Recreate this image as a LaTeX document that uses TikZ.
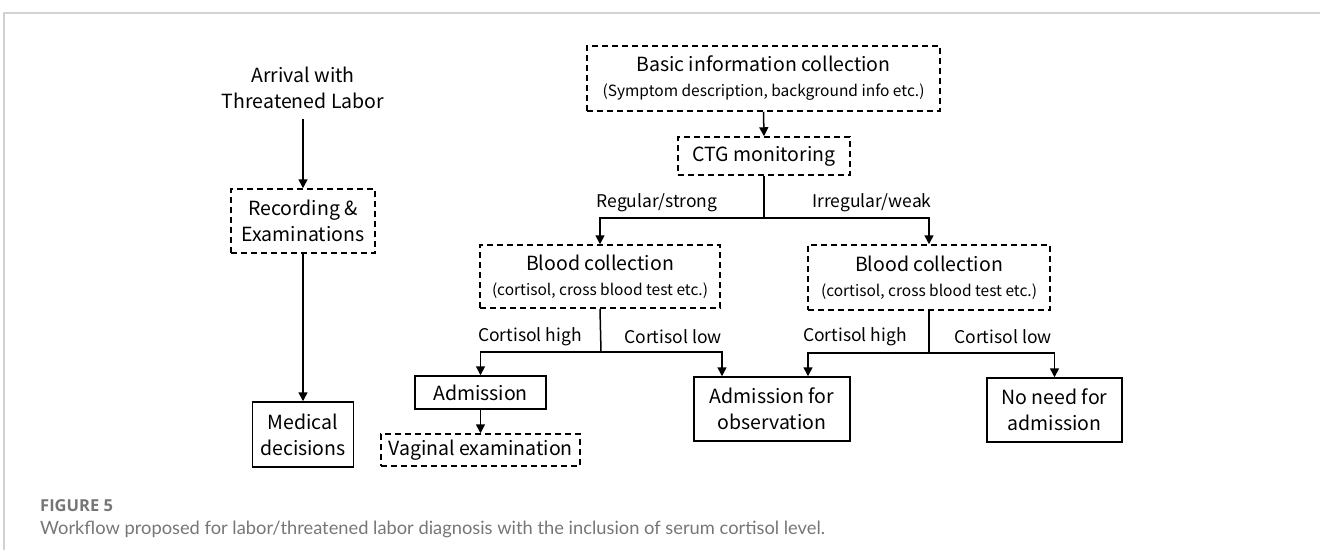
\documentclass[tikz,border=0pt]{standalone}
\usepackage{fontspec}
\setmainfont{Noto Sans CJK SC}
\newfontfamily\capfont{Lato}
\newfontfamily\figfont{Open Sans}
\usetikzlibrary{arrows.meta,positioning,calc}
\definecolor{framegray}{HTML}{D2D2D2}
\definecolor{capgray}{HTML}{767676}
\tikzset{
  boxbase/.style={draw=black, line width=1.5pt, inner sep=0pt, align=center, font=\fontsize{19.5}{26}\selectfont},
  sbox/.style={boxbase},
  dbox/.style={boxbase, dash pattern=on 6pt off 4pt},
  conn/.style={line width=1.5pt},
  arr/.style={conn, -{Triangle[length=9pt,width=9pt]}},
  lbl/.style={font=\fontsize{17.5}{20}\selectfont, inner sep=0pt}
}
\newcommand{\subtxt}[1]{{\fontsize{15.5}{18}\selectfont #1}}
\begin{document}
\begin{tikzpicture}[x=1pt,y=-1pt]
\useasboundingbox (0,0) rectangle (1320,550);
% frame
\draw[framegray, line width=1.5pt] (4,550) -- (4,13) -- (1320,13);
% left column
\node[font=\fontsize{19.5}{26}\selectfont, align=center, inner sep=0pt] (arrival) at (303,88) {Arrival with\\Threatened Labor};
\node[dbox, minimum width=144pt, minimum height=64pt] (rec) at (303,221) {Recording \&\\Examinations};
\node[sbox, minimum width=101pt, minimum height=65pt] (med) at (303,434.5) {Medical\\decisions};
% right
\node[dbox, minimum width=353pt, minimum height=65pt] (basic) at (763.5,78.5) {Basic information collection\\[-1pt]\subtxt{(Symptom description, background info etc.)}};
\node[dbox, minimum width=172pt, minimum height=38pt] (ctg) at (764,156) {CTG monitoring};
\node[dbox, minimum width=240pt, minimum height=63pt] (bl) at (600,276.5) {Blood collection\\[-1pt]\subtxt{(cortisol, cross blood test etc.)}};
\node[dbox, minimum width=242pt, minimum height=65pt] (br) at (929,277.5) {Blood collection\\[-1pt]\subtxt{(cortisol, cross blood test etc.)}};
\node[sbox, minimum width=131pt, minimum height=33pt] (adm) at (480.5,392.5) {Admission};
\node[dbox, minimum width=199pt, minimum height=32pt] (vag) at (480.5,450) {Vaginal examination};
\node[sbox, minimum width=156pt, minimum height=64pt] (obs) at (772,409) {Admission for\\observation};
\node[sbox, minimum width=135pt, minimum height=64pt] (noneed) at (1054.5,410) {No need for\\admission};
% junctions
\coordinate (j1) at (764,218);
\coordinate (j2) at (601,352);
\coordinate (j3) at (929,353);
\coordinate (a0) at (303,119);
% connectors
\draw[arr] (a0) -- (rec.north);
\draw[arr] (rec.south) -- (med.north);
\draw[arr] (basic.south) -- (ctg.north);
\draw[conn] (ctg.south) -- (j1);
\draw[arr] (j1) -| (bl.north);
\draw[arr] (j1) -| (br.north);
\draw[conn] (bl.south) -- (j2);
\draw[arr] (j2) -| (adm.north);
\draw[arr] (j2) -| ([xshift=-50pt]obs.north);
\draw[conn] (br.south) -- (j3);
\draw[arr] (j3) -| ([xshift=36pt]obs.north);
\draw[arr] (j3) -| (noneed.north);
\draw[arr] (adm.south) -- (vag.north);
% labels
\node[lbl] (l1) at (657,203) {Regular/strong};
\node[lbl] (l2) at (872,203) {Irregular/weak};
\node[lbl] (l3) at (530,337) {Cortisol high};
\node[lbl] (l4) at (673,337) {Cortisol low};
\node[lbl] (l5) at (855,337) {Cortisol high};
\node[lbl] (l6) at (1003,337) {Cortisol low};
% caption
\node[anchor=west, inner sep=0pt, text=capgray, font=\figfont\bfseries\fontsize{16.5}{19}\selectfont] (fig) at (40,506) {FIGURE 5};
\node[anchor=west, inner sep=0pt, text=capgray, font=\capfont\fontsize{18.3}{21}\selectfont] (cap) at (40,529) {Workflow proposed for labor/threatened labor diagnosis with the inclusion of serum cortisol level.};
\end{tikzpicture}
\end{document}
